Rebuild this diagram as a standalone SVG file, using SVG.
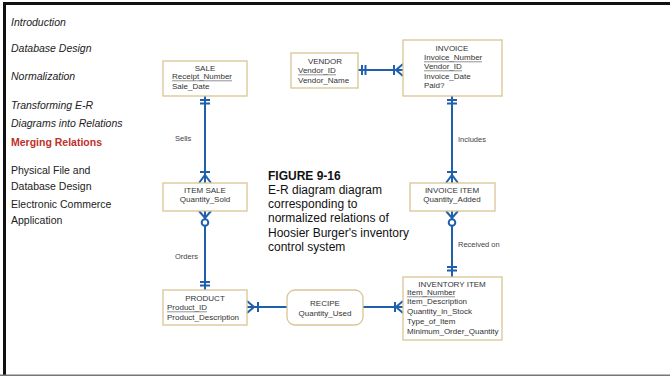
<svg xmlns="http://www.w3.org/2000/svg" width="670" height="376" viewBox="0 0 670 376">
<style>
.side{font-family:"Liberation Sans",Arial,sans-serif;font-size:10.5px;fill:#222}
.it{font-style:italic}
.ent{fill:#fff;stroke:#d8c596;stroke-width:1.3}
.t{font-family:"Liberation Sans",Arial,sans-serif;font-size:8px;fill:#333}
.c{text-anchor:middle}
.ul{stroke:#777;stroke-width:0.8}
.lbl{font-family:"Liberation Sans",Arial,sans-serif;font-size:7.5px;fill:#444}
.cap{font-family:"Liberation Sans",Arial,sans-serif;font-size:12px;fill:#111}
.ln{stroke:#1f5fae;stroke-width:2;fill:none}
.circ{stroke:#1f5fae;stroke-width:2;fill:#fff}
</style>
<rect width="670" height="376" fill="#fff"/>
<rect x="3" y="2" width="667" height="3" fill="#111"/>
<rect x="3" y="2" width="3" height="374" fill="#111"/>
<rect x="0" y="374.5" width="670" height="1.5" fill="#777"/>

<g id="sidebar">
<text class="side it" x="11" y="26">Introduction</text>
<text class="side it" x="11" y="52">Database Design</text>
<text class="side it" x="11" y="80">Normalization</text>
<text class="side it" x="11" y="109">Transforming E-R</text>
<text class="side it" x="11" y="127">Diagrams into Relations</text>
<text class="side" x="11" y="146" style="font-weight:bold;fill:#c0302a">Merging Relations</text>
<text class="side" x="11" y="174">Physical File and</text>
<text class="side" x="11" y="190">Database Design</text>
<text class="side" x="11" y="208">Electronic Commerce</text>
<text class="side" x="11" y="224">Application</text>
</g>

<g id="connectors">
<!-- SALE - ITEM SALE -->
<path class="ln" d="M205 96V183M200 100H210M200 103.5H210M200 172H210M199 183L205 175L211 183"/>
<text class="lbl" x="175" y="141">Sells</text>
<!-- ITEM SALE - PRODUCT -->
<path class="ln" d="M205 211V290M199 211L205 218L211 211M200 282H210M200 285.5H210"/>
<circle class="circ" cx="205" cy="222.5" r="3.3"/>
<text class="lbl" x="175" y="259">Orders</text>
<!-- VENDOR - INVOICE -->
<path class="ln" d="M358 70H403M362 65V75M365.5 65V75M394 65V75M403 64L396 70L403 76"/>
<!-- INVOICE - INVOICE ITEM -->
<path class="ln" d="M452 96V183M447 100H457M447 103.5H457M447 172H457M446 183L452 175L458 183"/>
<text class="lbl" x="458" y="142">Includes</text>
<!-- INVOICE ITEM - INVENTORY ITEM -->
<path class="ln" d="M452 211V277M446 211L452 218L458 211M447 267H457M447 270.5H457"/>
<circle class="circ" cx="452" cy="222.5" r="3.3"/>
<text class="lbl" x="458" y="247">Received on</text>
<!-- PRODUCT - RECIPE -->
<path class="ln" d="M247 307H287M247 301L254 307L247 313M258 302V312"/>
<!-- RECIPE - INVENTORY ITEM -->
<path class="ln" d="M363 307H403M395 302V312M403 301L396 307L403 313"/>
</g>

<g id="sale">
<rect class="ent" x="163" y="61" width="84" height="35"/>
<text class="t c" x="205" y="71">SALE</text>
<text class="t" x="172" y="79">Receipt_Number</text>
<line class="ul" x1="172" y1="80.8" x2="232" y2="80.8"/>
<text class="t" x="172" y="89">Sale_Date</text>
</g>

<g id="vendor">
<rect class="ent" x="291" y="53" width="67" height="35"/>
<text class="t c" x="325" y="64">VENDOR</text>
<text class="t" x="298" y="73">Vendor_ID</text>
<line class="ul" x1="298" y1="74.8" x2="336" y2="74.8"/>
<text class="t" x="298" y="83">Vendor_Name</text>
</g>

<g id="invoice">
<rect class="ent" x="403" y="40" width="99" height="56"/>
<text class="t c" x="452" y="51">INVOICE</text>
<text class="t" x="424" y="60">Invoice_Number</text>
<line class="ul" x1="424" y1="61.8" x2="482" y2="61.8"/>
<text class="t" x="424" y="69">Vendor_ID</text>
<line class="ul" x1="424" y1="70.8" x2="462" y2="70.8"/>
<text class="t" x="424" y="79">Invoice_Date</text>
<text class="t" x="424" y="88">Paid?</text>
</g>

<g id="item-sale">
<rect class="ent" x="163" y="183" width="84" height="28"/>
<text class="t c" x="205" y="193">ITEM SALE</text>
<text class="t c" x="205" y="202">Quantity_Sold</text>
</g>

<g id="invoice-item">
<rect class="ent" x="410" y="183" width="85" height="28"/>
<text class="t c" x="452" y="193">INVOICE ITEM</text>
<text class="t c" x="452" y="202">Quantity_Added</text>
</g>

<g id="product">
<rect class="ent" x="163" y="290" width="84" height="35"/>
<text class="t c" x="205" y="301">PRODUCT</text>
<text class="t" x="167" y="310">Product_ID</text>
<line class="ul" x1="167" y1="311.8" x2="207" y2="311.8"/>
<text class="t" x="167" y="320">Product_Description</text>
</g>

<g id="recipe">
<rect class="ent" x="287" y="290" width="76" height="35" rx="8"/>
<text class="t c" x="325" y="306">RECIPE</text>
<text class="t c" x="325" y="316">Quantity_Used</text>
</g>

<g id="inventory-item">
<rect class="ent" x="403" y="277" width="99" height="63"/>
<text class="t c" x="452" y="287">INVENTORY ITEM</text>
<text class="t" x="407" y="295">Item_Number</text>
<line class="ul" x1="407" y1="296.8" x2="455" y2="296.8"/>
<text class="t" x="407" y="304">Item_Description</text>
<text class="t" x="407" y="314">Quantity_in_Stock</text>
<text class="t" x="407" y="324">Type_of_Item</text>
<text class="t" x="407" y="334">Minimum_Order_Quantity</text>
</g>

<g id="caption">
<text class="cap" x="268" y="180" style="font-weight:bold">FIGURE 9-16</text>
<text class="cap" x="268" y="194">E-R diagram diagram</text>
<text class="cap" x="268" y="208">corresponding to</text>
<text class="cap" x="268" y="222">normalized relations of</text>
<text class="cap" x="268" y="237">Hoosier Burger's inventory</text>
<text class="cap" x="268" y="251">control system</text>
</g>
</svg>
